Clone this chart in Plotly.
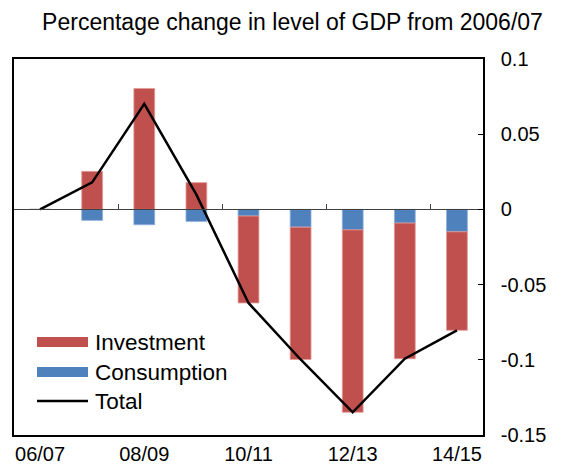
import plotly.graph_objects as go

categories = ["06/07", "07/08", "08/09", "09/10", "10/11", "11/12", "12/13", "13/14", "14/15"]
investment = [0, 0.0253, 0.0804, 0.0178, -0.0578, -0.0880, -0.1213, -0.0902, -0.0655]
consumption = [0, -0.0073, -0.0102, -0.0080, -0.0044, -0.0118, -0.0136, -0.0091, -0.0149]
total = [0, 0.0180, 0.0702, 0.0098, -0.0622, -0.0998, -0.1349, -0.0993, -0.0804]
label_ticks = ["06/07", "08/09", "10/11", "12/13", "14/15"]
y_ticks = [0.1, 0.05, 0, -0.05, -0.1, -0.15]
y_ticktext = ["0.1", "0.05", "0", "-0.05", "-0.1", "-0.15"]

RED = "#C0504D"
BLUE = "#4F81BD"
FONT = "Liberation Sans, Arial, sans-serif"
FS = 20
FS_TITLE = 23
FS_LEG = 22.5

# page body has an 8px margin: figure is sized/offset to compensate
W, H = 553, 460
L, T, R, B = 6, 51, 475, 427   # plot area in figure pixels

fig = go.Figure()
fig.add_trace(go.Bar(x=categories, y=consumption, name="Consumption",
                     marker=dict(color=BLUE, line=dict(color="#8DB0DA", width=0.8)),
                     showlegend=False))
fig.add_trace(go.Bar(x=categories, y=investment, name="Investment",
                     marker=dict(color=RED, line=dict(color="#E39A98", width=0.8)),
                     showlegend=False))
fig.add_trace(go.Scatter(x=categories, y=total, name="Total", mode="lines",
                         line=dict(color="black", width=2.5), showlegend=False))
# helper trace for the zero-line axis with boundary ticks
fig.add_trace(go.Scatter(x=[0, 8], y=[0, 0], mode="lines", xaxis="x2",
                         line=dict(width=0), opacity=0, hoverinfo="skip", showlegend=False))

fig.update_layout(
    width=W, height=H,
    margin=dict(l=L, r=W - R, t=T, b=H - B, autoexpand=False),
    paper_bgcolor="white", plot_bgcolor="white",
    font=dict(family=FONT, size=FS, color="black"),
    barmode="relative", bargap=0.6,
    title=dict(text="Percentage change in level of GDP from 2006/07",
               x=284.5 / W, xanchor="center", y=1 - 14 / H, yanchor="middle",
               font=dict(family=FONT, size=FS_TITLE, color="black")),
    xaxis=dict(type="category", categoryorder="array", categoryarray=categories,
               range=[-0.5, 8.5], tickmode="array", tickvals=label_ticks,
               ticks="", showline=True, mirror=True, linecolor="black", linewidth=1.5,
               showgrid=False, zeroline=False, tickfont=dict(size=FS), automargin=False),
    xaxis2=dict(overlaying="x", anchor="free", position=0.6, range=[-0.5, 8.5],
                tickmode="array", tickvals=[1.5, 3.5, 5.5, 7.5], ticks="inside",
                ticklen=5, tickcolor="#404040", tickwidth=1.2,
                showticklabels=False, showline=True, linecolor="#404040", linewidth=1.2,
                showgrid=False, zeroline=False, automargin=False),
    yaxis=dict(side="right", range=[-0.15, 0.1], tickmode="array",
               tickvals=y_ticks, ticktext=y_ticktext, ticks="inside", ticklen=5,
               tickcolor="black", showline=True, mirror=True, linecolor="black",
               linewidth=1.5, showgrid=False, zeroline=False,
               ticklabelstandoff=12, tickfont=dict(size=FS), automargin=False),
)

# custom legend (wide swatches as in the original); positions in page pixels
def px_x(px):
    return (px - 8 - L) / (R - L)

def px_y(py):
    return (B - (py - 8)) / (B - T)

legend_items = [("Investment", RED, 342), ("Consumption", BLUE, 372)]
for name, col, yc in legend_items:
    fig.add_shape(type="rect", xref="paper", yref="paper",
                  x0=px_x(37), x1=px_x(88), y0=px_y(yc + 5), y1=px_y(yc - 5),
                  fillcolor=col, line=dict(width=0))
    fig.add_annotation(text=name, xref="paper", yref="paper", x=px_x(93), y=px_y(yc),
                       xanchor="left", yanchor="middle", showarrow=False,
                       font=dict(size=FS_LEG))
fig.add_shape(type="line", xref="paper", yref="paper",
              x0=px_x(37), x1=px_x(88), y0=px_y(401), y1=px_y(401),
              line=dict(color="black", width=2.5))
fig.add_annotation(text="Total", xref="paper", yref="paper", x=px_x(93), y=px_y(401),
                   xanchor="left", yanchor="middle", showarrow=False, font=dict(size=FS_LEG))

fig.write_html("out.html")
